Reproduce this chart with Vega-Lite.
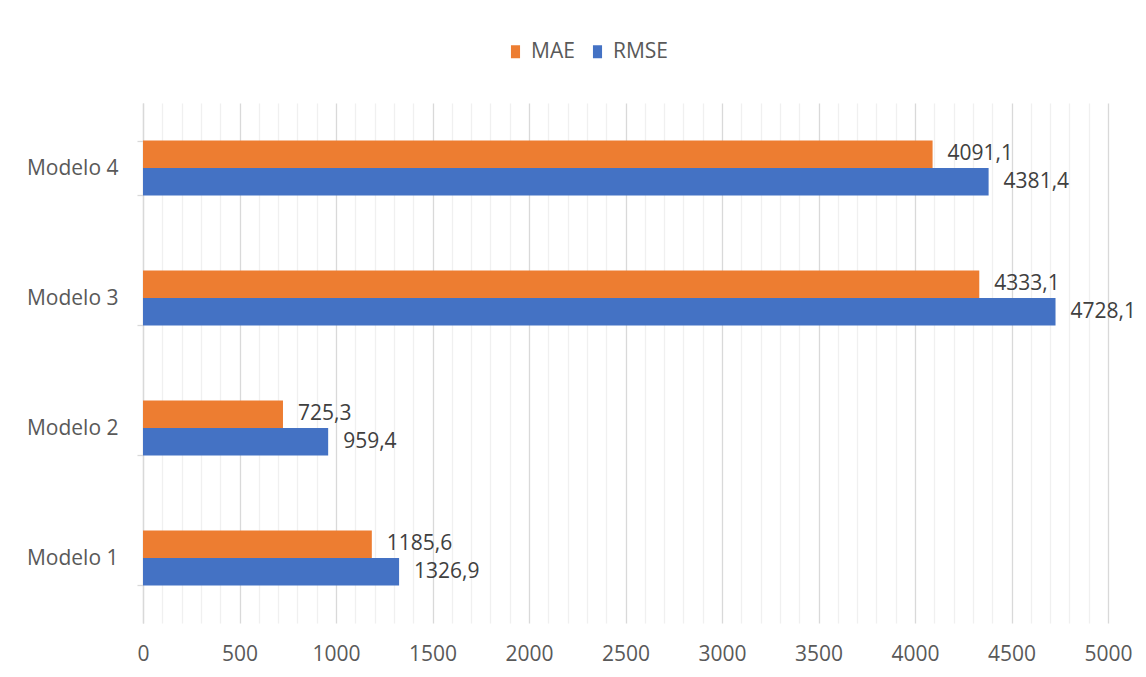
{
  "$schema": "https://vega.github.io/schema/vega-lite/v6.json",
  "width": 965,
  "height": 520,
  "autosize": {"type": "none"},
  "padding": {"left": 143, "top": 103, "right": 38, "bottom": 54},
  "background": "white",
  "config": {
    "locale": {"number": {"decimal": ",", "thousands": ".", "grouping": [3], "currency": ["", ""]}},
    "font": "Open Sans",
    "view": {"stroke": null}
  },
  "data": {
    "values": [
      {"modelo": "Modelo 1", "metrica": "MAE", "valor": 1185.6},
      {"modelo": "Modelo 1", "metrica": "RMSE", "valor": 1326.9},
      {"modelo": "Modelo 2", "metrica": "MAE", "valor": 725.3},
      {"modelo": "Modelo 2", "metrica": "RMSE", "valor": 959.4},
      {"modelo": "Modelo 3", "metrica": "MAE", "valor": 4333.1},
      {"modelo": "Modelo 3", "metrica": "RMSE", "valor": 4728.1},
      {"modelo": "Modelo 4", "metrica": "MAE", "valor": 4091.1},
      {"modelo": "Modelo 4", "metrica": "RMSE", "valor": 4381.4}
    ]
  },
  "encoding": {
    "y": {
      "field": "modelo",
      "type": "nominal",
      "sort": ["Modelo 4", "Modelo 3", "Modelo 2", "Modelo 1"],
      "scale": {"paddingInner": 0.577, "paddingOuter": 0.2885},
      "axis": {
        "title": null,
        "tickBand": "extent",
        "domainColor": "#d9d9d9",
        "domainWidth": 1.3,
        "tickColor": "#d9d9d9",
        "tickWidth": 1.3,
        "tickSize": 6,
        "labelPadding": 19,
        "labelFontSize": 21,
        "labelColor": "#595959",
        "labelFont": "Open Sans"
      }
    },
    "yOffset": {
      "field": "metrica",
      "type": "nominal",
      "sort": ["MAE", "RMSE"],
      "scale": {"paddingInner": 0, "paddingOuter": 0}
    },
    "x": {
      "field": "valor",
      "type": "quantitative",
      "scale": {"domain": [0, 5000], "nice": false},
      "axis": {
        "title": null,
        "values": [0,100,200,300,400,500,600,700,800,900,1000,1100,1200,1300,1400,1500,1600,1700,1800,1900,2000,2100,2200,2300,2400,2500,2600,2700,2800,2900,3000,3100,3200,3300,3400,3500,3600,3700,3800,3900,4000,4100,4200,4300,4400,4500,4600,4700,4800,4900,5000],
        "labelExpr": "datum.value % 500 === 0 ? format(datum.value, 'd') : ''",
        "labelFlush": false,
        "labelOverlap": false,
        "domain": false,
        "ticks": false,
        "labelPadding": 20,
        "labelFontSize": 21,
        "labelColor": "#595959",
        "labelFont": "Open Sans",
        "grid": true,
        "gridColor": {"condition": {"test": "datum.value % 500 === 0", "value": "#d9d9d9"}, "value": "#f0f0f0"},
        "gridWidth": 1.3
      }
    }
  },
  "layer": [
    {
      "mark": {"type": "bar"},
      "encoding": {
        "color": {
          "field": "metrica",
          "type": "nominal",
          "scale": {"domain": ["MAE", "RMSE"], "range": ["#ED7D31", "#4472C4"]},
          "legend": {
            "title": null,
            "orient": "none",
            "legendX": 362,
            "legendY": -62,
            "direction": "horizontal",
            "columns": 2,
            "symbolType": "M-0.7,-1H0.7V1H-0.7Z",
            "symbolSize": 169,
            "symbolStrokeWidth": 0,
            "labelFontSize": 21,
            "labelColor": "#595959",
            "labelFont": "Open Sans",
            "labelOffset": 5,
            "columnPadding": 12
          }
        }
      }
    },
    {
      "mark": {"type": "text", "align": "left", "baseline": "middle", "dx": 15, "fontSize": 21, "color": "#404040", "font": "Open Sans"},
      "encoding": {
        "text": {"field": "valor", "type": "quantitative", "format": ".1f"}
      }
    }
  ]
}
